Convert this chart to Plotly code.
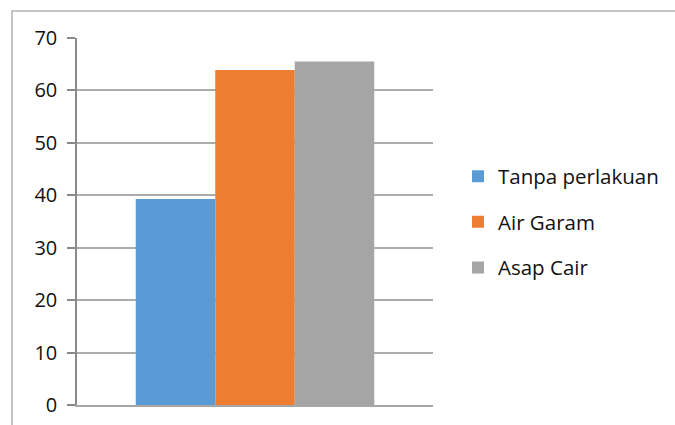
import plotly.graph_objects as go

categories = [""]
series_names = ["Tanpa perlakuan", "Air Garam", "Asap Cair"]
series_values = [[39.3], [63.9], [65.5]]
series_colors = ["#5B9BD5", "#ED7D31", "#A5A5A5"]
y_ticks = [0, 10, 20, 30, 40, 50, 60, 70]

W, H = 675, 425
ML, MR, MT, MB = 77, 242, 38, 20
PW, PH = W - ML - MR, H - MT - MB

fig = go.Figure()
for name, vals, col in zip(series_names, series_values, series_colors):
    fig.add_trace(go.Bar(x=categories, y=vals, name=name, marker_color=col,
                         marker_line_width=0, legendgroup=name))

def px_x(p):
    return (p - ML) / PW

def px_y(p):
    return (H - MB - p) / PH

fig.add_shape(type="rect", xref="paper", yref="paper",
              x0=px_x(12), x1=px_x(690), y0=px_y(440), y1=px_y(11),
              line=dict(color="#b3b3b3", width=1.5), layer="below")

fig.update_layout(
    width=W, height=H,
    margin=dict(l=ML, r=MR, t=MT, b=MB, autoexpand=False),
    paper_bgcolor="white", plot_bgcolor="white",
    barmode="group", bargap=0.33, bargroupgap=0,
    font=dict(family="Open Sans", size=20, color="#111111"),
    showlegend=True,
    legend=dict(x=px_x(458), xanchor="left", y=0.499, yanchor="middle",
                font=dict(family="Open Sans", size=20.5, color="#111111"),
                tracegroupgap=16, bgcolor="rgba(0,0,0,0)"),
    xaxis=dict(showticklabels=False, ticks="", showline=True, automargin=False,
               linecolor="#a6a6a6", linewidth=1.5, showgrid=False, zeroline=False),
    yaxis=dict(range=[0, 70], tickvals=y_ticks, ticktext=[str(v) for v in y_ticks],
               showline=True, linecolor="#8a8a8a", linewidth=1.5, automargin=False,
               ticks="outside", ticklen=8, tickcolor="#8a8a8a", tickwidth=1.5,
               showgrid=True, gridcolor="#acacac", gridwidth=1.5, zeroline=False,
               ticklabelstandoff=6,
               tickfont=dict(family="Open Sans", size=20, color="#111111")),
)

fig.write_html("out.html")
